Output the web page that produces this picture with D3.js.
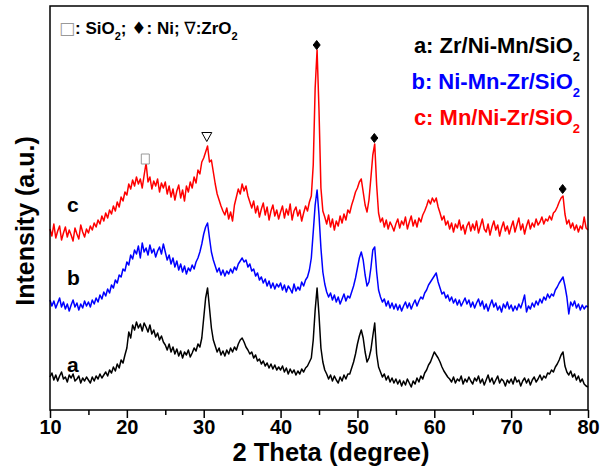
<!DOCTYPE html>
<html>
<head>
<meta charset="utf-8">
<script src="https://cdn.jsdelivr.net/npm/d3@7/dist/d3.min.js"></script>
<style>
  body { margin: 0; background: #fff; }
  text { font-family: "Liberation Sans", Arial, sans-serif; font-weight: bold; }
</style>
</head>
<body>
<svg id="chart" width="601" height="475"></svg>
<script>
// 2 theta grid: 10 to 80 deg, step 0.25
var thetaStart = 10, thetaStep = 0.25;

// a: Zr/Ni-Mn/SiO2 (black), intensity in a.u. (offset included)
var seriesA = [
  33,37,30,35,29,34,38,31,33,28,35,32,36,29,31,34,27,32,29,33,   // 10
  30,27,33,29,34,31,36,32,35,38,34,40,37,43,39,46,42,50,47,55,   // 15
  62,78,72,85,80,88,82,86,79,87,83,78,85,76,80,73,77,70,74,68,   // 20
  65,60,66,58,63,56,61,54,59,52,58,55,60,53,57,62,59,66,63,72,   // 25
  92,112,122,102,82,70,64,58,62,55,59,54,60,56,62,58,63,60,66,70, // 30
  72,68,63,60,56,58,52,55,49,51,46,49,44,47,42,46,41,45,40,43,   // 35
  40,44,38,42,36,41,37,40,35,39,36,41,38,42,44,48,52,70,100,122, // 40
  95,62,48,40,36,31,35,29,34,30,27,33,29,35,31,36,36,42,48,56,   // 45
  66,74,80,72,58,48,52,60,74,87,56,43,38,33,36,30,34,28,32,27,   // 50
  31,26,30,24,29,25,31,27,23,29,26,32,28,34,31,37,40,45,48,53,   // 55
  58,55,52,48,43,39,36,33,31,28,33,27,31,29,34,26,31,28,33,29,   // 60
  26,32,29,34,27,31,25,30,35,28,32,26,30,34,27,31,29,24,30,27,   // 65
  31,26,33,28,30,24,29,32,27,31,25,30,33,28,31,35,30,34,32,37,   // 70
  36,40,38,43,46,50,55,58,44,38,35,39,33,36,30,34,28,31,26,24,   // 75
  23
];

// b: Ni-Mn-Zr/SiO2 (blue)
var seriesB = [
  110,104,109,102,107,112,103,108,101,106,99,105,110,103,107,100,106,102,109,104,
  108,103,110,106,112,108,115,111,118,114,121,117,125,122,130,127,135,133,141,139,
  148,145,155,151,160,156,164,152,167,158,162,155,165,157,161,153,159,163,156,166,
  158,150,155,146,152,143,149,140,146,138,144,136,142,139,145,141,148,152,158,166,
  176,183,187,172,158,150,144,138,142,135,140,134,139,136,141,137,143,140,146,149,
  152,148,150,143,146,139,141,134,137,130,133,127,131,124,129,122,127,121,126,123,
  127,120,125,118,124,121,117,126,119,123,120,128,124,130,133,140,152,178,205,220,
  195,162,138,126,118,113,117,110,115,108,113,106,111,116,109,114,112,118,124,132,
  142,152,158,150,135,124,128,142,160,163,138,120,113,108,111,104,109,102,107,101,
  106,100,105,99,104,108,102,107,101,106,110,104,109,113,111,117,120,125,128,131,
  134,137,128,122,116,118,112,115,109,113,107,111,105,110,104,108,112,106,110,103,
  108,102,107,111,104,109,101,106,99,105,110,103,107,100,104,98,106,102,108,101,
  105,99,104,100,106,102,108,115,98,104,101,107,103,109,105,111,107,113,110,116,
  112,116,114,120,123,127,130,133,124,113,96,108,104,109,102,106,100,105,101,104,
  103
];

// c: Mn/Ni-Zr/SiO2 (red)
var seriesC = [
  181,174,186,172,179,184,170,177,183,173,180,175,169,182,176,171,185,178,173,181,
  177,184,180,187,183,190,186,194,189,197,192,200,196,204,199,208,203,213,209,218,
  215,226,221,230,224,233,226,231,222,235,247,228,233,221,229,224,231,218,227,222,
  228,216,224,213,221,210,219,225,212,220,209,224,218,228,222,233,227,240,236,248,
  252,258,264,248,250,238,226,216,210,204,199,195,202,191,198,189,205,213,221,216,
  226,219,224,214,208,202,209,197,204,193,201,207,195,203,190,199,205,194,200,191,
  198,204,192,201,195,206,190,199,203,194,200,189,197,204,199,208,214,245,322,360,
  300,222,199,193,186,195,183,191,180,189,184,194,187,196,190,200,197,205,211,218,
  222,228,231,218,205,198,210,232,255,266,225,197,188,192,183,190,181,188,184,179,
  186,191,182,189,185,193,181,188,194,184,190,183,192,188,195,199,204,210,206,212,
  208,212,203,197,190,194,185,189,181,187,178,186,182,190,180,185,176,184,188,179,
  186,180,189,177,184,191,181,178,186,175,183,189,180,185,174,182,188,179,184,176,
  183,189,178,185,192,180,186,176,184,190,181,187,183,191,185,188,193,186,191,189,
  194,190,197,199,203,208,212,214,196,186,190,182,187,180,185,178,184,181,193,182,
  180
];

var seriesColors = ['#000000', '#0000ff', '#ff0000'];
var seriesTags = ['a', 'b', 'c'];
var seriesTagLevel = [38, 125, 198];   // intensity where the a/b/c tag sits
var legendNames = ['a: Zr/Ni-Mn/SiO', 'b: Ni-Mn-Zr/SiO', 'c: Mn/Ni-Zr/SiO'];

// phase markers: theta, intensity, kind
var markTheta = [22.4, 30.4, 44.7, 52.2, 76.7];
var markLevel = [251, 273, 365, 272, 221];
var markKind = ['square', 'tri', 'dia', 'dia', 'dia'];

var xMajor = [10, 20, 30, 40, 50, 60, 70, 80];
var xMinor = [15, 25, 35, 45, 55, 65, 75];

var svg = d3.select('#chart');
var plotL = 50, plotR = 588, plotT = 6, plotB = 410;

var x = d3.scaleLinear().domain([10, 80]).range([plotL, plotR]);
var y = d3.scaleLinear().domain([0, 404]).range([plotB, plotT]);

function toPoints(arr) {
  return arr.map(function (v, i) { return [thetaStart + i * thetaStep, v]; });
}

var line = d3.line()
  .x(function (d) { return x(d[0]); })
  .y(function (d) { return y(d[1]); });

var allSeries = [seriesA, seriesB, seriesC];

svg.append('g').selectAll('path')
  .data(allSeries)
  .enter()
  .append('path')
  .attr('d', function (d) { return line(toPoints(d)); })
  .attr('fill', 'none')
  .attr('stroke', function (d, i) { return seriesColors[i]; })
  .attr('stroke-width', 1.5)
  .attr('stroke-linejoin', 'round');

// frame
svg.append('rect')
  .attr('x', plotL).attr('y', plotT)
  .attr('width', plotR - plotL).attr('height', plotB - plotT)
  .attr('fill', 'none').attr('stroke', '#000').attr('stroke-width', 1.5);

// bottom axis
var xAxis = d3.axisBottom(x).tickValues(xMajor).tickSize(8).tickPadding(2)
  .tickFormat(d3.format('d'));
var gx = svg.append('g').attr('transform', 'translate(0,' + plotB + ')').call(xAxis);
gx.select('.domain').remove();
gx.selectAll('line').attr('stroke-width', 1.5);
gx.selectAll('text').attr('font-size', 20).attr('fill', '#000')
  .style('font-family', '"Liberation Sans", Arial, sans-serif').style('font-weight', 'bold');

var gm = svg.append('g').attr('transform', 'translate(0,' + plotB + ')')
  .call(d3.axisBottom(x).tickValues(xMinor).tickSize(5).tickFormat(''));
gm.select('.domain').remove();
gm.selectAll('line').attr('stroke-width', 1.5);

// axis titles
svg.append('text')
  .attr('x', 331).attr('y', 461)
  .attr('text-anchor', 'middle').attr('font-size', 25.5)
  .text('2 Theta (degree)');

svg.append('text')
  .attr('transform', 'translate(34,221) rotate(-90)')
  .attr('text-anchor', 'middle').attr('font-size', 25)
  .text('Intensity (a.u.)');

// a / b / c tags
svg.append('g').selectAll('text')
  .data(seriesTags)
  .enter()
  .append('text')
  .attr('x', x(12.2))
  .attr('y', function (d, i) { return y(seriesTagLevel[i]); })
  .attr('font-size', 21)
  .text(function (d) { return d; });

// legend at top right
var legend = svg.append('g');
legendNames.forEach(function (name, i) {
  var t = legend.append('text')
    .attr('x', 580).attr('y', 53 + i * 36)
    .attr('text-anchor', 'end')
    .attr('font-size', 22)
    .attr('fill', seriesColors[i]);
  t.append('tspan').text(name);
  t.append('tspan').attr('font-size', 13).attr('dy', 8).text('2');
});

// phase key at top left
var key = svg.append('text').attr('x', 59).attr('y', 34).attr('font-size', 17);
key.append('tspan').attr('fill', '#999').style('font-family', 'DejaVu Sans').style('font-weight', 'normal').text('\u25A1');
key.append('tspan').text(': SiO');
key.append('tspan').attr('font-size', 11).attr('dy', 6).text('2');
key.append('tspan').attr('dy', -6).text('; ');
key.append('tspan').style('font-family', 'DejaVu Sans').text('\u2666');
key.append('tspan').text(': Ni; ');
key.append('tspan').style('font-family', 'DejaVu Sans').style('font-weight', 'normal').text('\u2207');
key.append('tspan').text(':ZrO');
key.append('tspan').attr('font-size', 11).attr('dy', 6).text('2');

// phase markers above peaks
var shapes = {
  square: 'M-4,-5H4V5H-4Z',
  tri: 'M-5,-4.5H5L0,4.5Z',
  dia: 'M0,-4.5L3.5,0L0,4.5L-3.5,0Z'
};
svg.append('g').selectAll('path')
  .data(markTheta)
  .enter()
  .append('path')
  .attr('transform', function (d, i) { return 'translate(' + x(d) + ',' + y(markLevel[i]) + ')'; })
  .attr('d', function (d, i) { return shapes[markKind[i]]; })
  .attr('fill', function (d, i) { return markKind[i] === 'dia' ? '#000' : '#fff'; })
  .attr('stroke', function (d, i) { return markKind[i] === 'square' ? '#999' : '#000'; })
  .attr('stroke-width', 1);
</script>
</body>
</html>
